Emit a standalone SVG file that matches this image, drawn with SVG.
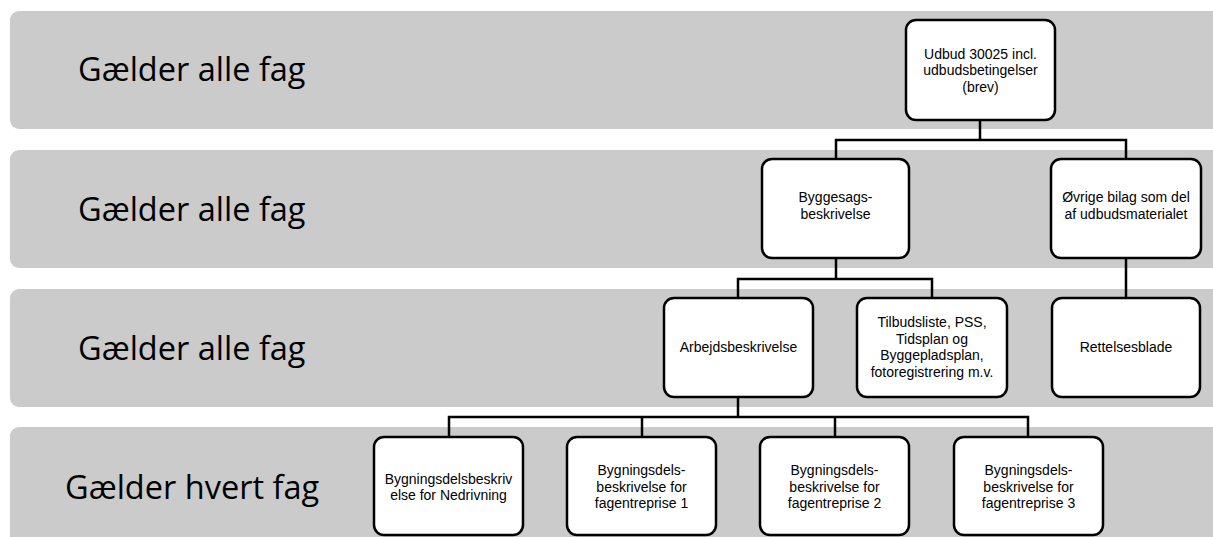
<svg xmlns="http://www.w3.org/2000/svg" width="1213" height="537" viewBox="0 0 1213 537">
<style>
.band{fill:#cbcbcb;}
.bl{font-family:"Open Sans","Liberation Sans",sans-serif;font-size:32.5px;fill:#000;}
.box{fill:#fff;stroke:#000;stroke-width:2.5;}
.t{font-family:"Liberation Sans",Arial,sans-serif;font-size:14px;fill:#000;text-anchor:middle;}
.c{fill:none;stroke:#000;stroke-width:2.5;}
</style>
<rect width="1213" height="537" fill="#fff"/>
<g id="bands">
<rect class="band" x="10" y="11" width="1230" height="118" rx="9"/>
<rect class="band" x="10" y="150" width="1230" height="118" rx="9"/>
<rect class="band" x="10" y="289" width="1230" height="118" rx="9"/>
<rect class="band" x="10" y="427" width="1230" height="130" rx="9"/>
<text class="bl" x="78" y="81">Gælder alle fag</text>
<text class="bl" x="78" y="221">Gælder alle fag</text>
<text class="bl" x="78" y="360">Gælder alle fag</text>
<text class="bl" x="65" y="499">Gælder hvert fag</text>
</g>
<g id="connectors">
<polyline class="c" points="980,120 980,140"/>
<polyline class="c" points="836,159 836,140 1126,140 1126,159"/>
<polyline class="c" points="836,258 836,279"/>
<polyline class="c" points="738,298 738,279 932,279 932,298"/>
<polyline class="c" points="1126,258 1126,298"/>
<polyline class="c" points="738,397 738,417"/>
<polyline class="c" points="449,437 449,417 1028,417 1028,437"/>
<polyline class="c" points="642,417 642,437"/>
<polyline class="c" points="835,417 835,437"/>
</g>
<g id="n-udbud">
<rect class="box" x="906" y="20" width="149" height="100" rx="10"/>
<text class="t" x="980.5" y="58.5">Udbud 30025 incl.</text>
<text class="t" x="980.5" y="75">udbudsbetingelser</text>
<text class="t" x="980.5" y="91.5">(brev)</text>
</g>
<g id="n-byggesag">
<rect class="box" x="762" y="159" width="147" height="99" rx="10"/>
<text class="t" x="835.5" y="202">Byggesags-</text>
<text class="t" x="835.5" y="218.5">beskrivelse</text>
</g>
<g id="n-ovrige">
<rect class="box" x="1051" y="159" width="150" height="99" rx="10"/>
<text class="t" x="1126" y="202">Øvrige bilag som del</text>
<text class="t" x="1126" y="218.5">af udbudsmaterialet</text>
</g>
<g id="n-arbejd">
<rect class="box" x="664" y="298" width="149" height="99" rx="10"/>
<text class="t" x="738.5" y="352">Arbejdsbeskrivelse</text>
</g>
<g id="n-tilbud">
<rect class="box" x="857" y="298" width="150" height="99" rx="10"/>
<text class="t" x="932" y="327">Tilbudsliste, PSS,</text>
<text class="t" x="932" y="343.5">Tidsplan og</text>
<text class="t" x="932" y="360">Byggepladsplan,</text>
<text class="t" x="932" y="376.5">fotoregistrering m.v.</text>
</g>
<g id="n-rettelse">
<rect class="box" x="1052" y="298" width="148" height="99" rx="10"/>
<text class="t" x="1126" y="352">Rettelsesblade</text>
</g>
<g id="n-nedriv">
<rect class="box" x="374" y="437" width="149" height="98" rx="10"/>
<text class="t" x="448.5" y="483.5">Bygningsdelsbeskriv</text>
<text class="t" x="448.5" y="500">else for Nedrivning</text>
</g>
<g id="n-fag1">
<rect class="box" x="567" y="437" width="149" height="98" rx="10"/>
<text class="t" x="641.5" y="475">Bygningsdels-</text>
<text class="t" x="641.5" y="491.5">beskrivelse for</text>
<text class="t" x="641.5" y="508">fagentreprise 1</text>
</g>
<g id="n-fag2">
<rect class="box" x="760" y="437" width="149" height="98" rx="10"/>
<text class="t" x="834.5" y="475">Bygningsdels-</text>
<text class="t" x="834.5" y="491.5">beskrivelse for</text>
<text class="t" x="834.5" y="508">fagentreprise 2</text>
</g>
<g id="n-fag3">
<rect class="box" x="954" y="437" width="149" height="98" rx="10"/>
<text class="t" x="1028.5" y="475">Bygningsdels-</text>
<text class="t" x="1028.5" y="491.5">beskrivelse for</text>
<text class="t" x="1028.5" y="508">fagentreprise 3</text>
</g>
</svg>
